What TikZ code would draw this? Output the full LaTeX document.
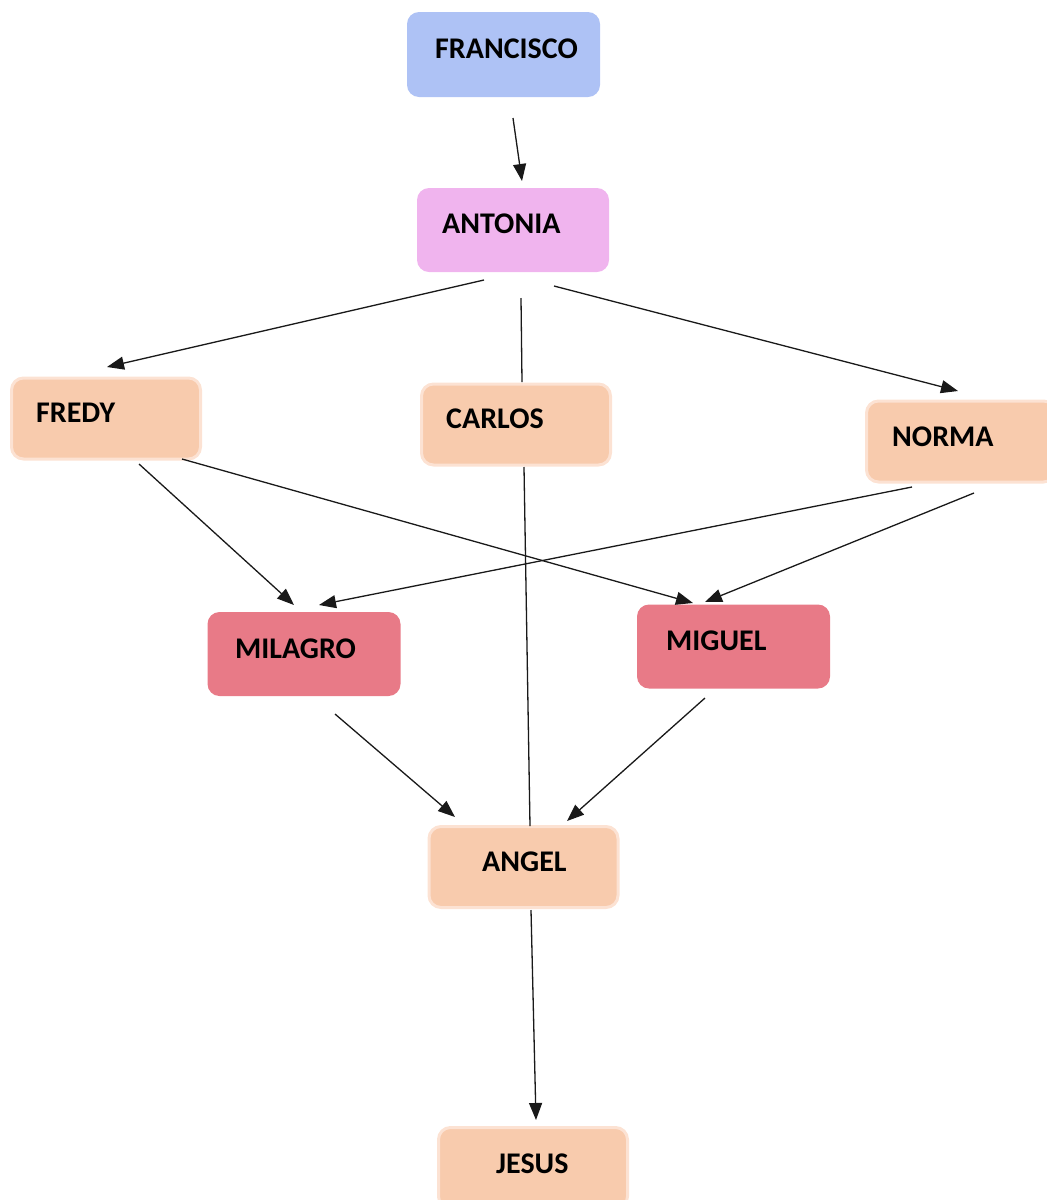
\documentclass[tikz,border=0pt]{standalone}
\usepackage{fontspec}
\setmainfont{Carlito}
\usetikzlibrary{arrows.meta}
\definecolor{cblue}{RGB}{174,194,245}
\definecolor{cpink}{RGB}{240,180,238}
\definecolor{cpeach}{RGB}{248,203,173}
\definecolor{cpeachb}{RGB}{252,226,211}
\definecolor{cred}{RGB}{232,122,135}
\definecolor{cline}{RGB}{25,25,25}
\tikzset{
  boxbase/.style={rectangle, rounded corners=12pt, inner sep=0pt},
  bluebox/.style={boxbase, fill=cblue, draw=none, minimum width=193pt, minimum height=85pt},
  pinkbox/.style={boxbase, fill=cpink, draw=none, minimum width=192pt, minimum height=84pt},
  redbox/.style={boxbase, fill=cred, draw=none, minimum width=193pt, minimum height=84pt},
  peachbox/.style={boxbase, fill=cpeach, draw=cpeachb, line width=3pt, minimum width=189pt, minimum height=81pt},
  txt/.style={anchor=base west, inner sep=0pt, font=\fontsize{30}{30}\selectfont\bfseries, text=black},
  conn/.style={draw=cline, line width=1.3pt},
  arr/.style={conn, -{Triangle[length=17pt, width=13pt]}}
}
\begin{document}
\begin{tikzpicture}[x=1pt, y=-1pt]
\useasboundingbox (0,0) rectangle (1047,1200);
\clip (0,0) rectangle (1047,1200);
% boxes
\node[bluebox]  (francisco) at (503.5,54.5) {};
\node[pinkbox]  (antonia)   at (513,230) {};
\node[peachbox] (fredy)     at (106,418.5) {};
\node[peachbox] (carlos)    at (516,424.5) {};
\node[peachbox] (norma)     at (961,441.5) {};
\node[redbox]   (milagro)   at (304,654) {};
\node[redbox]   (miguel)    at (733.5,646.5) {};
\node[peachbox] (angel)     at (523.5,867) {};
\node[peachbox] (jesus)     at (533,1168) {};
% labels
\node[txt] (franciscoT) at (435,58) {FRANCISCO};
\node[txt] (antoniaT)   at (442,233) {ANTONIA};
\node[txt] (fredyT)     at (36,422) {FREDY};
\node[txt] (carlosT)    at (446,428) {CARLOS};
\node[txt] (normaT)     at (892,446) {NORMA};
\node[txt] (milagroT)   at (235,658) {MILAGRO};
\node[txt] (miguelT)    at (666,650) {MIGUEL};
\node[txt] (angelT)     at (482,871) {ANGEL};
\node[txt] (jesusT)     at (496,1173) {JESUS};
% connector end points
\coordinate (fa1) at (513,118);  \coordinate (fa2) at (522,181);
\coordinate (af1) at (484,280);  \coordinate (af2) at (107,367);
\coordinate (ac1) at (521,298);  \coordinate (ac2) at (522,382);
\coordinate (an1) at (554,286);  \coordinate (an2) at (958,391);
\coordinate (cg1) at (524,467);  \coordinate (cg2) at (530,826);
\coordinate (fm1) at (139,464);  \coordinate (fm2) at (294,605);
\coordinate (fg1) at (182,459);  \coordinate (fg2) at (693,603);
\coordinate (nm1) at (912,487);  \coordinate (nm2) at (319,605);
\coordinate (ng1) at (974,493);  \coordinate (ng2) at (705,602);
\coordinate (ma1) at (335,714);  \coordinate (ma2) at (455,817);
\coordinate (ga1) at (705,698);  \coordinate (ga2) at (567,821);
\coordinate (aj1) at (531,910);  \coordinate (aj2) at (536,1120);
% connectors
\draw[arr]  (fa1) -- (fa2);
\draw[arr]  (af1) -- (af2);
\draw[conn] (ac1) -- (ac2);
\draw[arr]  (an1) -- (an2);
\draw[conn] (cg1) -- (cg2);
\draw[arr]  (fm1) -- (fm2);
\draw[arr]  (fg1) -- (fg2);
\draw[arr]  (nm1) -- (nm2);
\draw[arr]  (ng1) -- (ng2);
\draw[arr]  (ma1) -- (ma2);
\draw[arr]  (ga1) -- (ga2);
\draw[arr]  (aj1) -- (aj2);
\end{tikzpicture}
\end{document}
